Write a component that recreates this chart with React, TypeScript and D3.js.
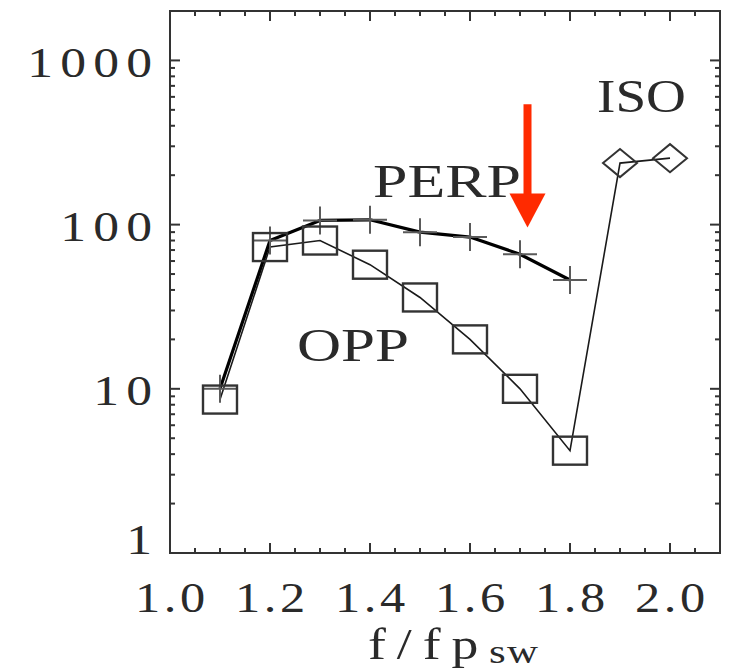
import React from "react";
import * as d3 from "d3";

// ---- data ----
const perpFreq = [1.1, 1.2, 1.3, 1.4, 1.5, 1.6, 1.7, 1.8];
const perpValues = [10, 80, 106, 107, 90, 84, 66, 46];
const oppFreq = [1.1, 1.2, 1.3, 1.4, 1.5, 1.6, 1.7, 1.8];
const oppValues = [8.6, 73, 80, 57, 36, 20, 10, 4.2];
const isoFreq = [1.9, 2.0];
const isoValues = [237, 254];
const xTickLabels = [1.0, 1.2, 1.4, 1.6, 1.8, 2.0];
const yTickLabels = [1, 10, 100, 1000];

const W = 729;
const H = 672;
const M = { left: 170, right: 720, top: 11, bottom: 553 };
const FONT = "'Liberation Serif', 'DejaVu Serif', serif";
const INK = "#2a2a2a";
const SX = 1.2;

export default function App() {
  const x = d3.scaleLinear().domain([1.0, 2.1]).range([M.left, M.right]);
  const y = d3.scaleLog().domain([1, 2000]).range([M.bottom, M.top]);

  const perp = perpFreq.map((f, i) => [f, perpValues[i]] as [number, number]);
  const opp = oppFreq.map((f, i) => [f, oppValues[i]] as [number, number]);
  const iso = isoFreq.map((f, i) => [f, isoValues[i]] as [number, number]);
  const thin = [...opp, ...iso];

  const line = d3
    .line<[number, number]>()
    .x((d) => x(d[0]))
    .y((d) => y(d[1]));

  const hw = 17;
  const hh = 14;

  const xMinor = d3.range(0, 22).map((i) => 1.0 + i * 0.05).filter((v) => v > 1.001 && v < 2.099);
  const isMajorX = (v: number) => Math.abs(v * 5 - Math.round(v * 5)) < 1e-6;
  const yMinor: number[] = [];
  for (let d = 0; d <= 3; d++)
    for (let k = 2; k <= 9; k++) {
      const v = k * Math.pow(10, d);
      if (v < 2000) yMinor.push(v);
    }

  const tickStroke = "#333";
  const ticks: JSX.Element[] = [];
  xMinor.forEach((v, i) => {
    const len = isMajorX(v) ? 10 : 5;
    const px = x(v);
    ticks.push(<line key={"xb" + i} x1={px} x2={px} y1={M.bottom} y2={M.bottom - len} stroke={tickStroke} strokeWidth={2} />);
    ticks.push(<line key={"xt" + i} x1={px} x2={px} y1={M.top} y2={M.top + len} stroke={tickStroke} strokeWidth={2} />);
  });
  [...yTickLabels.slice(1), ...yMinor].forEach((v, i) => {
    const len = yTickLabels.includes(v) ? 10 : 5;
    const py = y(v);
    ticks.push(<line key={"yl" + i} x1={M.left} x2={M.left + len} y1={py} y2={py} stroke={tickStroke} strokeWidth={2} />);
    ticks.push(<line key={"yr" + i} x1={M.right} x2={M.right - len} y1={py} y2={py} stroke={tickStroke} strokeWidth={2} />);
  });

  const ySpacing = 6;
  const xSpacing = 3;

  const arrowX = 1.715;
  const arrowTop = 540;
  const arrowTip = 96;
  const ax = x(arrowX);
  const aTop = y(arrowTop);
  const aTip = y(arrowTip);
  const headH = 34;
  const headW = 18;

  return (
    <svg width={W} height={H} style={{ position: "absolute", left: 0, top: 0, background: "#fff" }}>
      <rect x={0} y={0} width={W} height={H} fill="#fff" />
      <rect
        x={M.left}
        y={M.top}
        width={M.right - M.left}
        height={M.bottom - M.top}
        fill="none"
        stroke="#333"
        strokeWidth={2}
      />
      {ticks}

      {yTickLabels.map((v, i) => (
        <g key={"yl" + v} transform={`translate(152,${y(v) + (i === 0 ? -13 : 2)}) scale(${SX},1)`}>
          <text
            x={0}
            y={0}
            dx={ySpacing}
            textAnchor="end"
            dominantBaseline="central"
            fontFamily={FONT}
            fontSize={43}
            letterSpacing={ySpacing}
            fill={INK}
          >
            {String(v)}
          </text>
        </g>
      ))}

      {xTickLabels.map((v) => (
        <g key={"xl" + v} transform={`translate(${x(v)},598) scale(${SX},1)`}>
          <text
            x={0}
            y={0}
            dx={xSpacing / 2}
            textAnchor="middle"
            dominantBaseline="central"
            fontFamily={FONT}
            fontSize={42}
            letterSpacing={xSpacing}
            fill={INK}
          >
            {v.toFixed(1)}
          </text>
        </g>
      ))}

      <g transform={`translate(368,659) scale(1.22,1)`}>
        <text x={0} y={0} fontFamily={FONT} fontSize={44} fill={INK} letterSpacing={9}>
          f/fp
        </text>
      </g>
      <g transform={`translate(489,663) scale(1.3,1)`}>
        <text x={0} y={0} fontFamily={FONT} fontSize={33} fill={INK} letterSpacing={1}>
          sw
        </text>
      </g>

      <path d={line(thin) || ""} fill="none" stroke="#1a1a1a" strokeWidth={1.6} />
      <path d={line(perp) || ""} fill="none" stroke="#000" strokeWidth={3.2} strokeLinejoin="round" />

      {perp.map((d, i) => (
        <g key={"c" + i} stroke="#5a5a5a" strokeWidth={2}>
          <line x1={x(d[0]) - hw} x2={x(d[0]) + hw} y1={y(d[1])} y2={y(d[1])} />
          <line x1={x(d[0])} x2={x(d[0])} y1={y(d[1]) - hh} y2={y(d[1]) + hh} />
        </g>
      ))}

      {opp.map((d, i) => (
        <rect
          key={"s" + i}
          x={x(d[0]) - hw}
          y={y(d[1]) - hh}
          width={2 * hw}
          height={2 * hh}
          fill="none"
          stroke="#333"
          strokeWidth={2.4}
        />
      ))}

      {iso.map((d, i) => {
        const cx = x(d[0]);
        const cy = y(d[1]);
        return (
          <path
            key={"d" + i}
            d={`M${cx - hw},${cy} L${cx},${cy - hh} L${cx + hw},${cy} L${cx},${cy + hh} Z`}
            fill="none"
            stroke="#333"
            strokeWidth={2}
          />
        );
      })}

      <text x={x(1.406)} y={y(147)} fontFamily={FONT} fontSize={46} fill={INK} textLength={148} lengthAdjust="spacingAndGlyphs">
        PERP
      </text>
      <text x={x(1.254)} y={y(14.7)} fontFamily={FONT} fontSize={46} fill={INK} textLength={112} lengthAdjust="spacingAndGlyphs">
        OPP
      </text>
      <text x={x(1.854)} y={y(483)} fontFamily={FONT} fontSize={46} fill={INK} textLength={89} lengthAdjust="spacingAndGlyphs">
        ISO
      </text>

      <line x1={ax} x2={ax} y1={aTop} y2={aTip - headH + 2} stroke="#ff2a00" strokeWidth={8} />
      <path d={`M${ax - headW},${aTip - headH} L${ax + headW},${aTip - headH} L${ax},${aTip} Z`} fill="#ff2a00" />
    </svg>
  );
}
